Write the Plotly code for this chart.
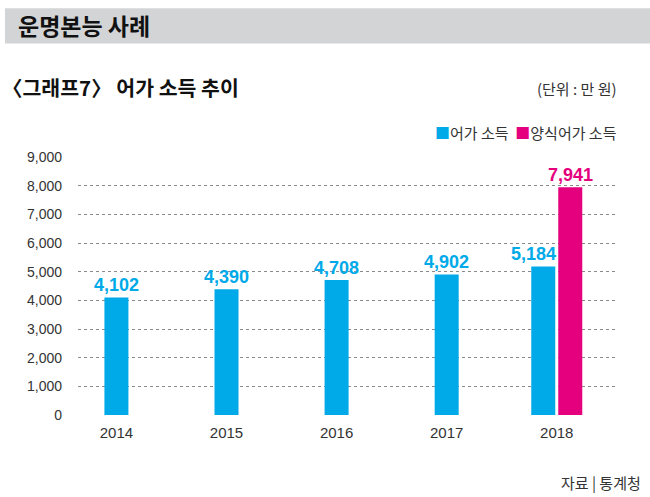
import plotly.graph_objects as go

# ---- data ----
years = ["2014", "2015", "2016", "2017", "2018"]
fishery_income = [4102, 4390, 4708, 4902, 5184]          # 어가 소득
aquaculture_years = ["2018"]
aquaculture_income = [7941]                              # 양식어가 소득
y_ticks = [0, 1000, 2000, 3000, 4000, 5000, 6000, 7000, 8000, 9000]

BLUE = "#00a9e8"
PINK = "#e5007e"
NUM_FONT = "Liberation Sans, Arial, sans-serif"
KR_FONT = "Noto Sans CJK KR, Noto Sans, sans-serif"

W, H = 650, 497
L, R, T, B = 78, 615, 156.7, 415.3          # plot area in px
x_lo, x_hi = -0.349, 4.529
ppc = (R - L) / (x_hi - x_lo)                # px per category

bar_w = 24 / ppc
gap = 3 / ppc

blue_offsets = [-(bar_w + gap / 2) if y in aquaculture_years else -bar_w / 2 for y in years]
pink_offsets = [gap / 2 for _ in aquaculture_years]


def px_x(px):
    return (px - L) / (R - L)


def px_y(py):
    return (B - py) / (B - T)


fig = go.Figure()
fig.add_trace(go.Bar(
    x=years, y=fishery_income, name="어가 소득",
    marker=dict(color=BLUE, line=dict(width=0)),
    width=[bar_w] * len(years), offset=blue_offsets,
    showlegend=False, hoverinfo="x+y",
))
fig.add_trace(go.Bar(
    x=aquaculture_years, y=aquaculture_income, name="양식어가 소득",
    marker=dict(color=PINK, line=dict(width=0)),
    width=[bar_w] * len(aquaculture_years), offset=pink_offsets,
    showlegend=False, hoverinfo="x+y",
))

annotations = []
# value labels (x given as category index)
for yr, v, off in zip(years, fishery_income, blue_offsets):
    shift = (off + bar_w / 2) * ppc
    if yr in aquaculture_years:
        shift -= 10
    annotations.append(dict(
        x=years.index(yr), y=v, xref="x", yref="y", text=f"{v:,}", showarrow=False,
        xshift=shift, yshift=0, yanchor="bottom", xanchor="center",
        font=dict(family=NUM_FONT, size=18, color=BLUE, weight="bold"),
    ))
for yr, v, off in zip(aquaculture_years, aquaculture_income, pink_offsets):
    shift = (off + bar_w / 2) * ppc
    annotations.append(dict(
        x=years.index(yr), y=v, xref="x", yref="y", text=f"{v:,}", showarrow=False,
        xshift=shift, yshift=0, yanchor="bottom", xanchor="center",
        font=dict(family=NUM_FONT, size=18, color=PINK, weight="bold"),
    ))

# header & titles (positions in page px)
annotations += [
    dict(x=px_x(16), y=px_y(24.5), xref="paper", yref="paper", text="운명본능 사례",
         showarrow=False, xanchor="left", yanchor="middle",
         font=dict(family=KR_FONT, size=23, color="#111111", weight="bold")),
    dict(x=px_x(0), y=px_y(87), xref="paper", yref="paper", text="〈그래프7〉 어가 소득 추이",
         showarrow=False, xanchor="left", yanchor="middle",
         font=dict(family=KR_FONT, size=20.5, color="#111111", weight="bold")),
    dict(x=px_x(619), y=px_y(88), xref="paper", yref="paper", text="(단위 : 만 원)",
         showarrow=False, xanchor="right", yanchor="middle",
         font=dict(family=KR_FONT, size=15, color="#333333")),
    dict(x=px_x(619), y=px_y(132), xref="paper", yref="paper",
         text=f"<span style='color:{BLUE}'>■</span>어가 소득  <span style='color:{PINK}'>■</span>양식어가 소득",
         showarrow=False, xanchor="right", yanchor="middle",
         font=dict(family=KR_FONT, size=15, color="#333333")),
    dict(x=px_x(643), y=px_y(483), xref="paper", yref="paper", text="자료 | 통계청",
         showarrow=False, xanchor="right", yanchor="middle",
         font=dict(family=KR_FONT, size=15, color="#333333")),
]

shapes = [dict(type="rect", xref="paper", yref="paper",
               x0=px_x(5), x1=px_x(660), y0=px_y(43), y1=px_y(7.5),
               fillcolor="#d3d4d6", line=dict(width=0), layer="below")]

fig.update_layout(
    width=W, height=H,
    margin=dict(l=L, r=W - R, t=T, b=H - B, pad=0),
    paper_bgcolor="white", plot_bgcolor="white",
    barmode="overlay",
    annotations=annotations, shapes=shapes,
    xaxis=dict(
        type="category", range=[x_lo, x_hi], categoryorder="array", categoryarray=years,
        showgrid=False, showline=False, zeroline=False, ticks="",
        tickfont=dict(family=NUM_FONT, size=15, color="#333333"),
        ticklabelstandoff=7,
    ),
    yaxis=dict(
        range=[0, 9000], tickvals=y_ticks, ticktext=[f"{t:,}" for t in y_ticks],
        showgrid=True, gridcolor="#8a8a8a", gridwidth=1, griddash="dot",
        zeroline=False, showline=False, ticks="",
        tickfont=dict(family=NUM_FONT, size=14, color="#333333"),
        ticklabelstandoff=15,
    ),
    font=dict(family=KR_FONT),
)

fig.write_html("out.html", config={"displayModeBar": False},
               post_script="document.body.style.margin='0';")
